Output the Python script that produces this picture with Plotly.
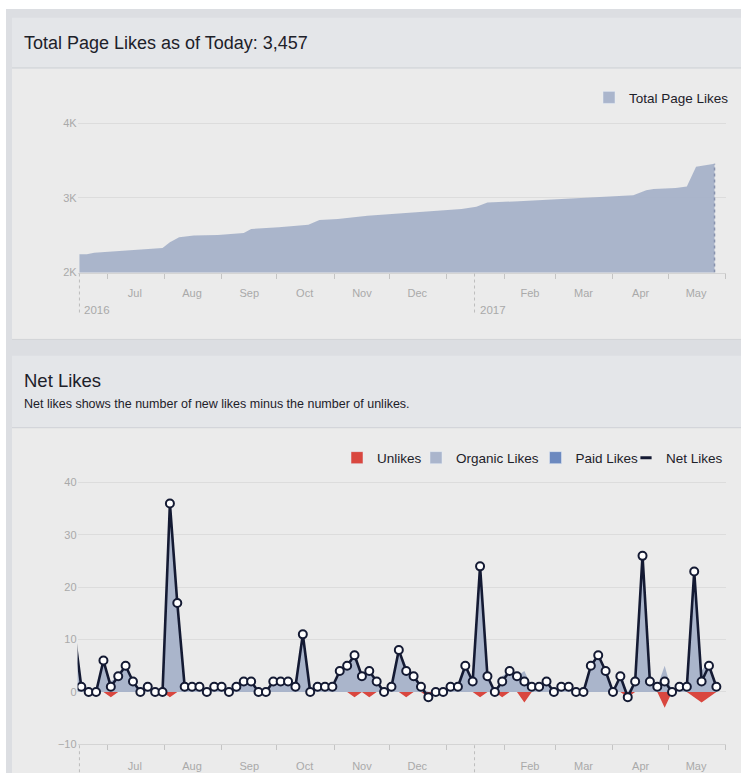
import plotly.graph_objects as go
import pandas as pd

W, H = 741, 779
FONT = "Liberation Sans, Arial, Helvetica, sans-serif"

# ---------------- data: Total Page Likes ----------------
total_dates = ["2016-06-16", "2016-06-20", "2016-06-24", "2016-07-03", "2016-07-19", "2016-07-31",
               "2016-08-04", "2016-08-09", "2016-08-17", "2016-08-30", "2016-09-13", "2016-09-17",
               "2016-10-02", "2016-10-18", "2016-10-24", "2016-11-03", "2016-11-19", "2016-12-07",
               "2016-12-18", "2017-01-09", "2017-01-17", "2017-01-23", "2017-02-09", "2017-03-04",
               "2017-03-25", "2017-04-12", "2017-04-19", "2017-04-23", "2017-05-05", "2017-05-11",
               "2017-05-16", "2017-05-26"]
total_likes = [2245, 2245, 2266, 2283, 2310, 2330, 2407, 2474, 2496, 2504, 2531, 2584,
               2606, 2641, 2704, 2717, 2761, 2793, 2814, 2850, 2881, 2938, 2956, 2983,
               3009, 3036, 3102, 3120, 3133, 3151, 3417, 3457]

# ---------------- data: Net Likes (every 4 days; first point lies just left of the view) ----------------
net_dates = pd.date_range("2016-06-13", periods=88, freq="4D")
net_likes = [12, 1, 0, 0, 6, 1, 3, 5, 2, 0, 1, 0, 0, 36, 17, 1, 1, 1, 0, 1, 1, 0, 1, 2, 2, 0, 0,
             2, 2, 2, 1, 11, 0, 1, 1, 1, 4, 5, 7, 3, 4, 2, 0, 1, 8, 4, 3, 1, -1, 0, 0, 1, 1, 5,
             2, 24, 3, 0, 2, 4, 3, 2, 1, 1, 2, 0, 1, 1, 0, 0, 5, 7, 4, 0, 3, -1, 2, 26, 2, 1, 2,
             0, 1, 1, 23, 2, 5, 1]
organic_likes = [12, 1, 0, 0, 6, 2, 3, 5, 2, 0, 1, 0, 0, 37, 17, 1, 1, 1, 0, 1, 1, 0, 1, 2, 2, 0, 0,
                 2, 2, 2, 1, 11, 0, 1, 1, 1, 4, 5, 8, 3, 5, 2, 0, 1, 8, 5, 3, 1, 0, 0, 0, 1, 1, 5,
                 2, 25, 3, 0, 3, 4, 3, 4, 1, 1, 2, 0, 1, 1, 0, 0, 5, 7, 4, 0, 3, 0, 2, 26, 2, 1, 5,
                 0, 1, 1, 24, 4, 6, 1]
unlikes = [0, 0, 0, 0, 0, -1, 0, 0, 0, 0, 0, 0, 0, -1, 0, 0, 0, 0, 0, 0, 0, 0, 0, 0, 0, 0, 0,
           0, 0, 0, 0, 0, 0, 0, 0, 0, 0, 0, -1, 0, -1, 0, 0, 0, 0, -1, 0, 0, -1, 0, 0, 0, 0, 0,
           0, -1, 0, 0, -1, 0, 0, -2, 0, 0, 0, 0, 0, 0, 0, 0, 0, 0, 0, 0, 0, -1, 0, 0, 0, 0, -3,
           0, 0, 0, -1, -2, -1, 0]

# ---------------- axis labels ----------------
month_label_dates = ["2016-06-16", "2016-07-16", "2016-08-16", "2016-09-16", "2016-10-16", "2016-11-16",
                     "2016-12-16", "2017-01-16", "2017-02-15", "2017-03-16", "2017-04-16", "2017-05-16"]
month_labels = ["", "Jul", "Aug", "Sep", "Oct", "Nov", "Dec", "", "Feb", "Mar", "Apr", "May"]
year_mark_dates = ["2016-06-16", "2017-01-16"]
year_labels = ["2016", "2017"]
x_range = ["2016-06-15", "2017-06-01"]

# colours
AREA = "rgba(163,175,200,0.9)"
AREA_SW = "#aab5cc"
RED = "#d9473f"
PAID = "#6c89bf"
NAVY = "#141a33"
TICK = "#a9a9a9"
GRID = "#dcdcdc"
TXT = "#1d2129"


def px(xp):
    return xp / W


def py(yp):
    return 1 - yp / H


fig = go.Figure()

# ---------- top chart ----------
fig.add_trace(go.Scatter(x=total_dates, y=total_likes, mode="lines", fill="tozeroy",
                         line=dict(width=0, color=AREA_SW), fillcolor=AREA,
                         showlegend=False, hoverinfo="skip", xaxis="x", yaxis="y"))
fig.add_trace(go.Scatter(x=[total_dates[-1], total_dates[-1]], y=[2000, total_likes[-1]],
                         mode="lines", line=dict(width=1.5, color="#8792ad", dash="dot"),
                         showlegend=False, hoverinfo="skip", xaxis="x", yaxis="y"))
fig.add_trace(go.Bar(x=[None], y=[None], name="Total Page Likes", marker_color=AREA_SW,
                     legend="legend", xaxis="x", yaxis="y"))

# ---------- bottom chart ----------
fig.add_trace(go.Scatter(x=net_dates, y=organic_likes, mode="lines", fill="tozeroy",
                         line=dict(width=0, color=AREA_SW), fillcolor=AREA,
                         showlegend=False, hoverinfo="skip", xaxis="x2", yaxis="y2"))
fig.add_trace(go.Scatter(x=net_dates, y=unlikes, mode="lines", fill="tozeroy",
                         line=dict(width=0, color=RED), fillcolor=RED,
                         showlegend=False, hoverinfo="skip", xaxis="x2", yaxis="y2"))
fig.add_trace(go.Scatter(x=net_dates, y=net_likes, mode="lines",
                         line=dict(width=2.6, color=NAVY),
                         showlegend=False, hoverinfo="skip", xaxis="x2", yaxis="y2"))
fig.add_trace(go.Scatter(x=net_dates[1:], y=net_likes[1:], mode="markers",
                         marker=dict(size=8, color="white", line=dict(width=2, color=NAVY)),
                         showlegend=False, hoverinfo="skip", xaxis="x2", yaxis="y2"))

# legend entries, each in its own legend box so they can sit like the reference
legend_items = [("Unlikes", RED, "legend2"), ("Organic Likes", AREA_SW, "legend3"),
                ("Paid Likes", PAID, "legend4")]
for nm, col, lg in legend_items:
    fig.add_trace(go.Bar(x=[None], y=[None], name=nm, marker_color=col,
                         legend=lg, xaxis="x2", yaxis="y2"))
fig.add_trace(go.Scatter(x=[None], y=[None], name="Net Likes", mode="markers",
                         marker=dict(symbol="line-ew", size=8, line=dict(width=3, color=NAVY)),
                         legend="legend5", xaxis="x2", yaxis="y2"))

xdom = [px(77.6), px(725.6)]


def xaxis_common(label_len):
    return dict(
        type="date", range=x_range, domain=xdom,
        tickmode="array", tickvals=month_label_dates, ticktext=month_labels,
        ticks="outside", ticklen=label_len, tickcolor="rgba(0,0,0,0)",
        tickfont=dict(size=11, color=TICK, family=FONT),
        showgrid=False, zeroline=False, showline=True, linecolor="#d4d4d4", linewidth=1,
        minor=dict(ticks="outside", ticklen=5, tickcolor="#c4c4c4", tickwidth=1,
                   dtick="M1", tick0="2016-07-01", showgrid=False),
        fixedrange=True,
    )


shapes = [
    dict(type="rect", xref="paper", yref="paper", x0=px(6), x1=1, y0=0, y1=py(8),
         fillcolor="#dcdee2", line_width=0, layer="below"),
    dict(type="rect", xref="paper", yref="paper", x0=px(12), x1=1, y0=py(67), y1=py(17),
         fillcolor="#e4e6e9", line_width=0, layer="below"),
    dict(type="rect", xref="paper", yref="paper", x0=px(12), x1=1, y0=py(341), y1=py(68),
         fillcolor="#ebebeb", line_width=0, layer="below"),
    dict(type="rect", xref="paper", yref="paper", x0=px(12), x1=1, y0=py(430), y1=py(358),
         fillcolor="#e4e6e9", line_width=0, layer="below"),
    dict(type="rect", xref="paper", yref="paper", x0=px(12), x1=1, y0=0, y1=py(431),
         fillcolor="#ebebeb", line_width=0, layer="below"),
    dict(type="line", xref="paper", yref="paper", x0=px(12), x1=1, y0=py(67.5), y1=py(67.5),
         line=dict(color="#d2d4d8", width=1), layer="below"),
    dict(type="line", xref="paper", yref="paper", x0=px(12), x1=1, y0=py(341.5), y1=py(341.5),
         line=dict(color="#d2d4d8", width=1), layer="below"),
    dict(type="line", xref="paper", yref="paper", x0=px(12), x1=1, y0=py(430.5), y1=py(430.5),
         line=dict(color="#d2d4d8", width=1), layer="below"),
]
annotations = [
    dict(text="Total Page Likes as of Today: 3,457", x=px(22), y=py(42), xref="paper", yref="paper",
         xanchor="left", yanchor="middle", showarrow=False, font=dict(size=18, color=TXT, family=FONT)),
    dict(text="Net Likes", x=px(22), y=py(383), xref="paper", yref="paper",
         xanchor="left", yanchor="middle", showarrow=False, font=dict(size=18.5, color=TXT, family=FONT)),
    dict(text="Net likes shows the number of new likes minus the number of unlikes.",
         x=px(22), y=py(407), xref="paper", yref="paper",
         xanchor="left", yanchor="middle", showarrow=False, font=dict(size=12.5, color=TXT, family=FONT)),
]
for d, lab in zip(year_mark_dates, year_labels):
    shapes.append(dict(type="line", xref="x", yref="paper", x0=d, x1=d, y0=py(275), y1=py(316),
                       line=dict(color="#bdbdbd", width=1, dash="dot")))
    shapes.append(dict(type="line", xref="x2", yref="paper", x0=d, x1=d, y0=py(751), y1=0,
                       line=dict(color="#bdbdbd", width=1, dash="dot")))
    annotations.append(dict(text=lab, x=d, y=py(311.5), xref="x", yref="paper", xanchor="left",
                            yanchor="middle", xshift=3, showarrow=False,
                            font=dict(size=11.5, color=TICK, family=FONT)))


def legend_box(left_px, y_px):
    return dict(orientation="h", x=px(left_px), xanchor="left", y=py(y_px), yanchor="middle",
                bgcolor="rgba(0,0,0,0)", borderwidth=0,
                font=dict(size=13.5, color=TXT, family=FONT), itemwidth=30)


fig.update_layout(
    width=W, height=H, margin=dict(l=0, r=0, t=0, b=0),
    paper_bgcolor="white", plot_bgcolor="rgba(0,0,0,0)",
    font=dict(family=FONT, color=TXT),
    xaxis=dict(anchor="y", **xaxis_common(10)),
    xaxis2=dict(anchor="y2", **xaxis_common(12)),
    yaxis=dict(domain=[py(274), py(115.8)], range=[2000, 4100], anchor="x",
               tickmode="array", tickvals=[2000, 3000, 4000], ticktext=["2K", "3K", "4K"],
               tickfont=dict(size=11, color=TICK, family=FONT), showgrid=True, gridcolor=GRID,
               zeroline=False, showline=False, ticks="", fixedrange=True),
    yaxis2=dict(domain=[py(750), py(480.7)], range=[-10, 41], anchor="x2",
                tickmode="linear", tick0=0, dtick=10,
                tickfont=dict(size=11, color=TICK, family=FONT), showgrid=True, gridcolor=GRID,
                zeroline=False, showline=False, ticks="", fixedrange=True),
    legend=legend_box(589, 97.5),
    legend2=legend_box(337, 461),
    legend3=legend_box(416, 461),
    legend4=legend_box(535.5, 461),
    legend5=legend_box(626, 461),
    shapes=shapes, annotations=annotations,
    showlegend=True, hovermode=False,
)

fig.write_html("out.html")
